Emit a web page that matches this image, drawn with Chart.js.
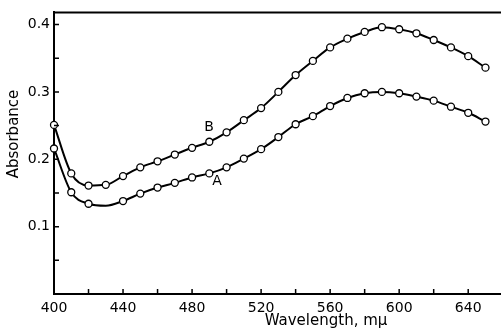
<!DOCTYPE html>
<html>
<head>
<meta charset="utf-8">
<script src="https://cdn.jsdelivr.net/npm/chart.js@4"></script>
<style>
  html, body { margin: 0; padding: 0; background: #fff; }
  #wrap { width: 501px; height: 332px; }
</style>
</head>
<body>
<div id="wrap"><canvas id="chart"></canvas></div>
<script>
// wavelengths in mμ, one reading every 10
const wavelengths = [400, 410, 420, 430, 440, 450, 460, 470, 480, 490, 500, 510, 520,
                     530, 540, 550, 560, 570, 580, 590, 600, 610, 620, 630, 640, 650];

const absorbanceB = [0.251, 0.179, 0.161, 0.162, 0.175, 0.188, 0.197, 0.207, 0.217, 0.226,
                     0.240, 0.258, 0.276, 0.300, 0.325, 0.346, 0.366, 0.379, 0.389, 0.396,
                     0.393, 0.387, 0.377, 0.366, 0.353, 0.336];

const absorbanceA = [0.216, 0.151, 0.134, 0.131, 0.138, 0.149, 0.158, 0.165, 0.173, 0.179,
                     0.188, 0.201, 0.215, 0.233, 0.252, 0.264, 0.279, 0.291, 0.298, 0.300,
                     0.298, 0.293, 0.287, 0.278, 0.269, 0.256];

// curve A has no marker at 430
const markerA = wavelengths.map(w => (w === 430 ? 0 : 3.5));

const xTickLabels = [400, 440, 480, 520, 560, 600, 640];
const yTickLabels = [0.1, 0.2, 0.3, 0.4];

const FONT = '"DejaVu Sans", sans-serif';

function toPoints(values) {
    return wavelengths.map((w, i) => ({ x: w, y: values[i] }));
}

function lineSet(label, values, radius) {
    return {
        label: label,
        data: toPoints(values),
        borderColor: '#000',
        borderWidth: 2,
        tension: 0.4,
        cubicInterpolationMode: 'monotone',
        clip: false,
        pointRadius: radius,
        pointBackgroundColor: '#fff',
        pointBorderColor: '#000',
        pointBorderWidth: 1.3
    };
}

// inward tick marks, top frame line, axis titles and curve labels
const decorations = {
    id: 'decorations',
    afterDraw(chart) {
        const ctx = chart.ctx;
        const area = chart.chartArea;
        const xs = chart.scales.x;
        const ys = chart.scales.y;
        ctx.save();
        ctx.strokeStyle = '#000';
        ctx.lineWidth = 1.5;
        ctx.beginPath();
        xs.ticks.forEach(t => {
            const px = xs.getPixelForValue(t.value);
            ctx.moveTo(px, area.bottom);
            ctx.lineTo(px, area.bottom - 5);
        });
        ys.ticks.forEach(t => {
            const py = ys.getPixelForValue(t.value);
            ctx.moveTo(area.left, py);
            ctx.lineTo(area.left + 5, py);
        });
        ctx.stroke();

        ctx.lineWidth = 2;
        ctx.beginPath();
        ctx.moveTo(area.left - 1, area.top);
        ctx.lineTo(area.right, area.top);
        ctx.stroke();

        ctx.fillStyle = '#000';
        ctx.font = '15px ' + FONT;
        ctx.textAlign = 'center';
        ctx.textBaseline = 'middle';
        ctx.fillText('Wavelength, m\u03bc', 326, 321);

        ctx.save();
        ctx.translate(14, 134);
        ctx.rotate(-Math.PI / 2);
        ctx.fillText('Absorbance', 0, 0);
        ctx.restore();

        ctx.font = '14px ' + FONT;
        ctx.fillText('B', 209, 127);
        ctx.fillText('A', 217, 181);
        ctx.restore();
    }
};

new Chart(document.getElementById('chart'), {
    type: 'line',
    data: {
        datasets: [
            lineSet('B', absorbanceB, 3.5),
            lineSet('A', absorbanceA, markerA)
        ]
    },
    options: {
        responsive: true,
        maintainAspectRatio: false,
        animation: false,
        layout: { autoPadding: false, padding: { top: 11, left: 0, right: 0, bottom: 0 } },
        plugins: {
            legend: { display: false },
            tooltip: { enabled: false }
        },
        scales: {
            x: {
                type: 'linear',
                min: 400,
                max: 659,
                grid: { display: false, drawTicks: false },
                border: { display: true, color: '#000', width: 2 },
                ticks: {
                    stepSize: 20,
                    includeBounds: false,
                    maxRotation: 0,
                    autoSkip: false,
                    padding: 6,
                    color: '#000',
                    font: { family: FONT, size: 14 },
                    callback: v => (xTickLabels.includes(v) ? String(v) : '')
                },
                afterFit: s => { s.height = 38; }
            },
            y: {
                min: 0,
                max: 0.418,
                grid: { display: false, drawTicks: false },
                border: { display: true, color: '#000', width: 2 },
                ticks: {
                    stepSize: 0.05,
                    includeBounds: false,
                    autoSkip: false,
                    padding: 4,
                    color: '#000',
                    font: { family: FONT, size: 14 },
                    callback: v => {
                        const hit = yTickLabels.find(t => Math.abs(t - v) < 1e-6);
                        return hit ? hit.toFixed(1) : '';
                    }
                },
                afterFit: s => { s.width = 54; }
            }
        }
    },
    plugins: [decorations]
});
</script>
</body>
</html>
